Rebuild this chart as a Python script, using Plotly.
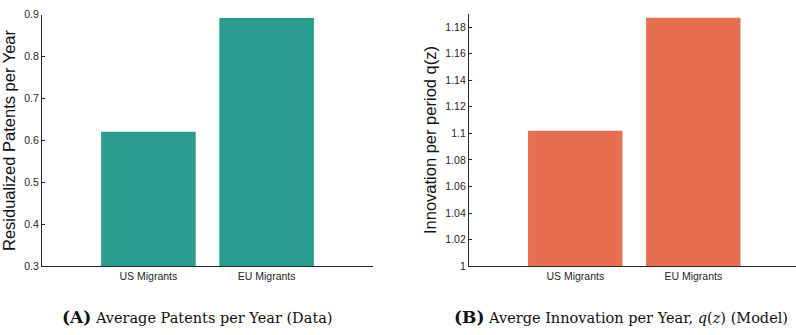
import plotly.graph_objects as go

# Categories and bar values
groups = ["US Migrants", "EU Migrants"]
patents_data = [0.621, 0.892]       # panel A: residualized patents per year
innovation_model = [1.102, 1.187]   # panel B: average innovation q(z)

left_ticks = [0.3, 0.4, 0.5, 0.6, 0.7, 0.8, 0.9]
left_tick_text = ["0.3", "0.4", "0.5", "0.6", "0.7", "0.8", "0.9"]
right_ticks = [1.0, 1.02, 1.04, 1.06, 1.08, 1.1, 1.12, 1.14, 1.16, 1.18]
right_tick_text = ["1", "1.02", "1.04", "1.06", "1.08", "1.1", "1.12", "1.14", "1.16", "1.18"]

caption_a = "<span style='font-size:17px'><b>(A)</b></span> Average Patents per Year (Data)"
caption_b = ("<span style='font-size:17px'><b>(B)</b></span> Averge Innovation per Year, "
             "<i>q</i>(<i>z</i>) (Model)")

TEAL = "#2a9d8f"
ORANGE = "#e76f51"
AXIS = "#262626"
W, H = 796, 335

x_pos = [1, 2]

fig = go.Figure()
fig.add_trace(go.Bar(x=x_pos, y=[v - 0.3 for v in patents_data], base=0.3,
                     marker=dict(color=TEAL, line=dict(width=0)), width=0.8,
                     xaxis="x", yaxis="y", showlegend=False))
fig.add_trace(go.Bar(x=x_pos, y=[v - 1.0 for v in innovation_model], base=1.0,
                     marker=dict(color=ORANGE, line=dict(width=0)), width=0.8,
                     xaxis="x2", yaxis="y2", showlegend=False))

tick_font = dict(family="Liberation Sans, Arial, sans-serif", size=10.5, color=AXIS)
title_font = dict(family="Liberation Sans, Arial, sans-serif", size=16.5, color="#111111")

y_dom = [(H - 270) / H, (H - 9) / H]
y2_dom = [(H - 270) / H, (H - 8) / H]

common_x = dict(tickmode="array", tickvals=x_pos, ticktext=groups, ticks="",
                showline=True, linecolor=AXIS, linewidth=1.3, showgrid=False,
                zeroline=False, tickfont=tick_font, fixedrange=True)
common_y = dict(tickmode="array", showline=True, linecolor=AXIS, linewidth=1.3,
                ticks="inside", ticklen=3, tickcolor=AXIS, tickwidth=1,
                showgrid=False, zeroline=False, tickfont=tick_font,
                title_font=title_font, title_standoff=4)

fig.update_layout(
    width=W, height=H,
    margin=dict(l=0, r=0, t=0, b=0),
    paper_bgcolor="white", plot_bgcolor="white",
    bargap=0.2,
    xaxis=dict(domain=[42 / W, 373 / W], range=[0.1, 2.9], anchor="y", **common_x),
    yaxis=dict(domain=y_dom, range=[0.3, 0.9], anchor="x",
               tickvals=left_ticks, ticktext=left_tick_text,
               title_text="Residualized Patents per Year", **common_y),
    xaxis2=dict(domain=[469 / W, 1.0], range=[0.1, 2.87], anchor="y2", **common_x),
    yaxis2=dict(domain=y2_dom, range=[1.0, 1.19], anchor="x2",
                tickvals=right_ticks, ticktext=right_tick_text,
                title_text="Innovation per period q(z)", **common_y),
    annotations=[
        dict(text=caption_a, x=197 / W, y=(H - 323) / H, xref="paper", yref="paper",
             showarrow=False, xanchor="center", yanchor="middle",
             font=dict(family="DejaVu Serif, serif", size=14.5, color="#111111")),
        dict(text=caption_b, x=621 / W, y=(H - 323) / H, xref="paper", yref="paper",
             showarrow=False, xanchor="center", yanchor="middle",
             font=dict(family="DejaVu Serif, serif", size=14.5, color="#111111")),
    ],
)

fig.write_html("out.html")
